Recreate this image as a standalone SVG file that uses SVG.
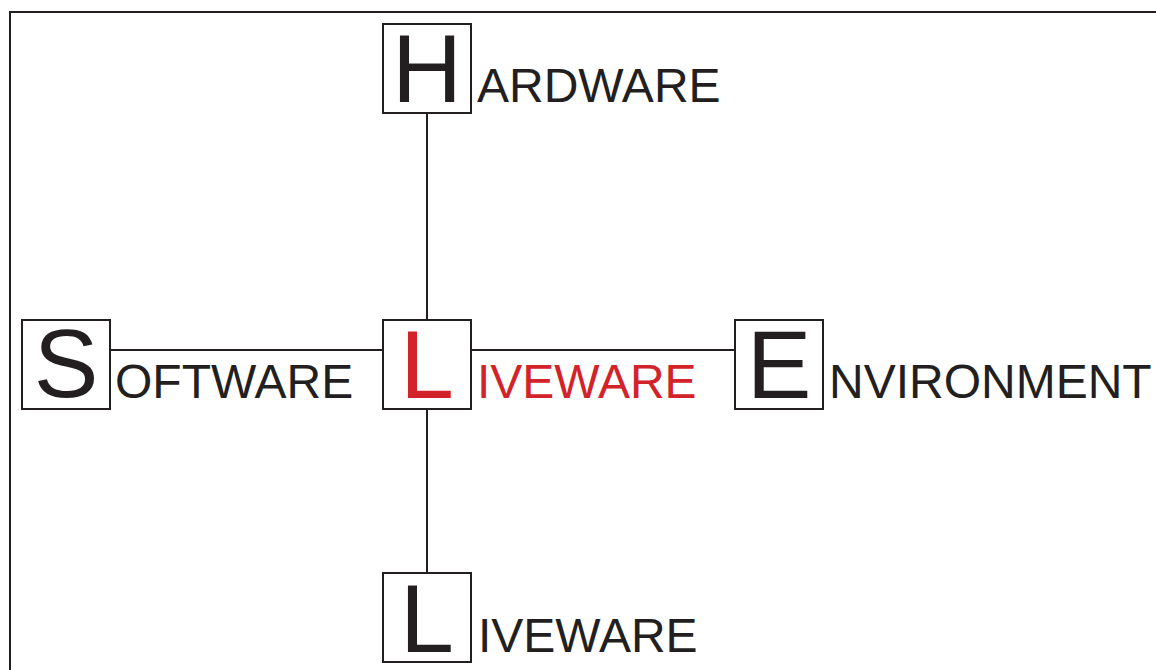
<svg xmlns="http://www.w3.org/2000/svg" width="1156" height="670" viewBox="0 0 1156 670">
<style>
.box{fill:#fff;stroke:#231f20;stroke-width:2}
.ln{stroke:#231f20;stroke-width:2;fill:none}
.big{font-family:"Liberation Sans",Arial,sans-serif;font-size:97px;fill:#231f20;text-anchor:middle}
.word{font-family:"Liberation Sans",Arial,sans-serif;font-size:48px;fill:#231f20}
.red{fill:#d2232a}
</style>
<rect x="0" y="0" width="1156" height="670" fill="#fff"/>
<rect x="10" y="12" width="1160" height="680" class="ln"/>
<g id="connectors">
<line x1="427" y1="113" x2="427" y2="320" class="ln"/>
<line x1="427" y1="409" x2="427" y2="573" class="ln"/>
<line x1="110" y1="350" x2="383" y2="350" class="ln"/>
<line x1="471" y1="350" x2="735" y2="350" class="ln"/>
</g>
<g id="hardware">
<rect x="383" y="24" width="88" height="89" class="box"/>
<text x="427" y="102" class="big">H</text>
<text x="477" y="102" class="word">ARDWARE</text>
</g>
<g id="software">
<rect x="22" y="320" width="88" height="89" class="box"/>
<text x="66" y="397" class="big">S</text>
<text x="115" y="398" class="word">OFTWARE</text>
</g>
<g id="liveware-center">
<rect x="383" y="320" width="88" height="89" class="box"/>
<text x="427" y="398" class="big red">L</text>
<text x="477" y="398" class="word red">IVEWARE</text>
</g>
<g id="environment">
<rect x="735" y="320" width="88" height="89" class="box"/>
<text x="779" y="398" class="big">E</text>
<text x="829" y="398" class="word">NVIRONMENT</text>
</g>
<g id="liveware-bottom">
<rect x="383" y="573" width="88" height="89" class="box"/>
<text x="427" y="652" class="big">L</text>
<text x="478" y="652" class="word">IVEWARE</text>
</g>
</svg>
